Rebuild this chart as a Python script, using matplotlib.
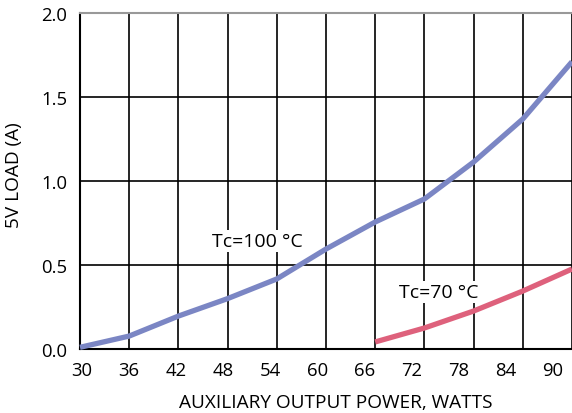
import numpy as np
import matplotlib
matplotlib.use('Agg')
import matplotlib.pyplot as plt

plt.rcParams['font.family'] = ['Open Sans', 'DejaVu Sans']

# curve data (x = auxiliary output power, W)
power_100 = [30, 36, 42, 48, 54, 60, 66, 72, 78, 84, 90]
load_100 = [0.01, 0.077, 0.196, 0.30, 0.417, 0.595, 0.756, 0.893, 1.113, 1.369, 1.71]

power_70 = [66, 72, 78, 84, 90]
load_70 = [0.042, 0.125, 0.226, 0.345, 0.476]

grid_ticks = [30, 36, 42, 48, 54, 60, 66, 72, 78, 84, 90]
tick_labels = ['30', '36', '42', '48', '54', '60', '66', '72', '78', '84', '90']
y_ticks = [0.0, 0.5, 1.0, 1.5, 2.0]

blue = '#7b86c4'
red = '#de617c'

fig = plt.figure(figsize=(5.72, 4.14), dpi=100)
ax = fig.add_axes([80 / 572, 64 / 414, 492 / 572, 336 / 414])

ax.set_xlim(30, 90)
ax.set_ylim(0, 2.0)

# gridlines on the 6 W grid, labels drift slightly left in the original
ax.set_xticks(grid_ticks, minor=True)
ax.grid(True, which='minor', axis='x', color='black', linewidth=1.2)
label_pos = [30.2 + (v - 30) * 0.958 for v in grid_ticks]
ax.set_xticks(label_pos)
ax.set_xticklabels(tick_labels)
ax.set_yticks(y_ticks)
ax.set_yticklabels(['%.1f' % v for v in y_ticks])
ax.grid(True, which='major', axis='y', color='black', linewidth=1.2)
ax.tick_params(axis='both', which='both', length=0, labelsize=13.3)
ax.tick_params(axis='x', pad=9)
ax.tick_params(axis='y', pad=9)
ax.set_axisbelow(True)

ax.spines['right'].set_visible(False)
ax.spines['top'].set_color('#999999')
ax.spines['top'].set_linewidth(1.5)
ax.spines['left'].set_linewidth(1.5)
ax.spines['bottom'].set_linewidth(1.5)

ax.plot(power_100, load_100, color=blue, linewidth=3.8, solid_capstyle='butt', clip_on=False, zorder=3)
ax.plot(power_70, load_70, color=red, linewidth=3.8, solid_capstyle='butt', clip_on=False, zorder=3)

box = dict(facecolor='white', edgecolor='none', pad=1.5)
ax.text(51.6, 0.645, 'Tc=100 °C', fontsize=14, ha='center', va='center', bbox=box, zorder=2)
ax.text(73.7, 0.34, 'Tc=70 °C', fontsize=14, ha='center', va='center', bbox=box, zorder=2)

ax.set_xlabel('AUXILIARY OUTPUT POWER, WATTS', fontsize=13.7)
ax.set_ylabel('5V LOAD (A)', fontsize=13.7)
ax.xaxis.set_label_coords(256 / 492, -44 / 336)
ax.yaxis.set_label_coords(-57 / 492, 175 / 336)

fig.savefig('out.png', dpi=100)
